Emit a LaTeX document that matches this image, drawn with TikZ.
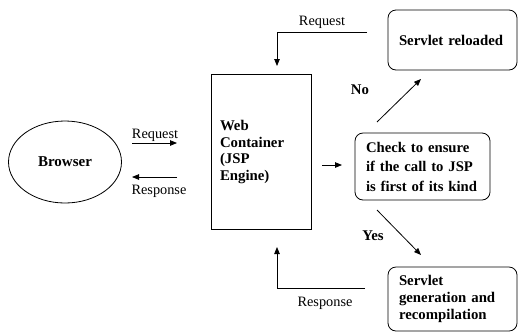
\documentclass[tikz,border=0pt]{standalone}
\usepackage{fontspec}
\setmainfont{Liberation Serif}
\usetikzlibrary{arrows.meta,shapes.geometric}
\begin{document}
\begin{tikzpicture}[x=1pt,y=-1pt,line width=0.8pt,
  lbl/.style={font=\fontsize{14.3}{17}\selectfont, inner sep=0pt},
  blbl/.style={font=\fontsize{14.8}{17}\selectfont\bfseries, inner sep=0pt},
  arr/.style={-{Triangle[length=7pt,width=5.5pt]}},
  rbox/.style={draw, rounded corners=8pt, align=left, inner xsep=11pt, inner ysep=0pt,
    font=\fontsize{14.8}{17}\selectfont\bfseries}]
\useasboundingbox (0,0) rectangle (518,333);
% nodes
\node[draw, ellipse, minimum width=113pt, minimum height=82pt, inner sep=0pt,
  font=\fontsize{15}{17}\selectfont\bfseries] (browser) at (65,162) {Browser};
\node[draw, rectangle, minimum width=100pt, minimum height=155pt, text width=82pt,
  inner xsep=9pt, inner ysep=0pt, align=left,
  font=\fontsize{14.8}{16.8}\selectfont\bfseries] (web) at (261,152) {Web\\Container\\(JSP\\Engine)};
\node[rbox, minimum width=135pt, minimum height=67pt, text width=113pt,
  font=\fontsize{14.7}{19.5}\selectfont\bfseries] (check) at (422.5,166.5)
  {Check to ensure\\if the call to JSP\\is first of its kind};
\node[rbox, minimum width=129pt, minimum height=60pt, text width=107pt] (reload) at (452.5,40)
  {Servlet reloaded};
\node[rbox, minimum width=129pt, minimum height=64pt, text width=107pt,
  font=\fontsize{14.8}{17}\selectfont\bfseries] (gen) at (452.5,299)
  {Servlet\\generation and\\recompilation};
% coordinates for free arrows
\coordinate (reqA) at (132,143);
\coordinate (reqB) at (177,143);
\coordinate (resA) at (177,177);
\coordinate (resB) at (132,177);
\coordinate (wcA) at (322,165);
\coordinate (wcB) at (342,165);
\coordinate (noA) at (377,122);
\coordinate (noB) at (421,79);
\coordinate (yesA) at (377,210);
\coordinate (yesB) at (421,255);
\coordinate (topA) at (367,32);
\coordinate (topB) at (277,66);
\coordinate (botA) at (365,288);
\coordinate (botB) at (277,247);
% arrows
\draw[arr] (reqA) -- (reqB);
\draw[arr] (resA) -- (resB);
\draw[arr] (wcA) -- (wcB);
\draw[arr] (noA) -- (noB);
\draw[arr] (yesA) -- (yesB);
\draw[arr] (topA) -| (topB);
\draw[arr] (botA) -| (botB);
% labels
\node[lbl] (lreq) at (155,135) {Request};
\node[lbl] (lres) at (159,191) {Response};
\node[lbl] (ltop) at (322,22) {Request};
\node[lbl] (lbot) at (325,303) {Response};
\node[blbl] (lno) at (360,90) {No};
\node[blbl] (lyes) at (373,236) {Yes};
\end{tikzpicture}
\end{document}
